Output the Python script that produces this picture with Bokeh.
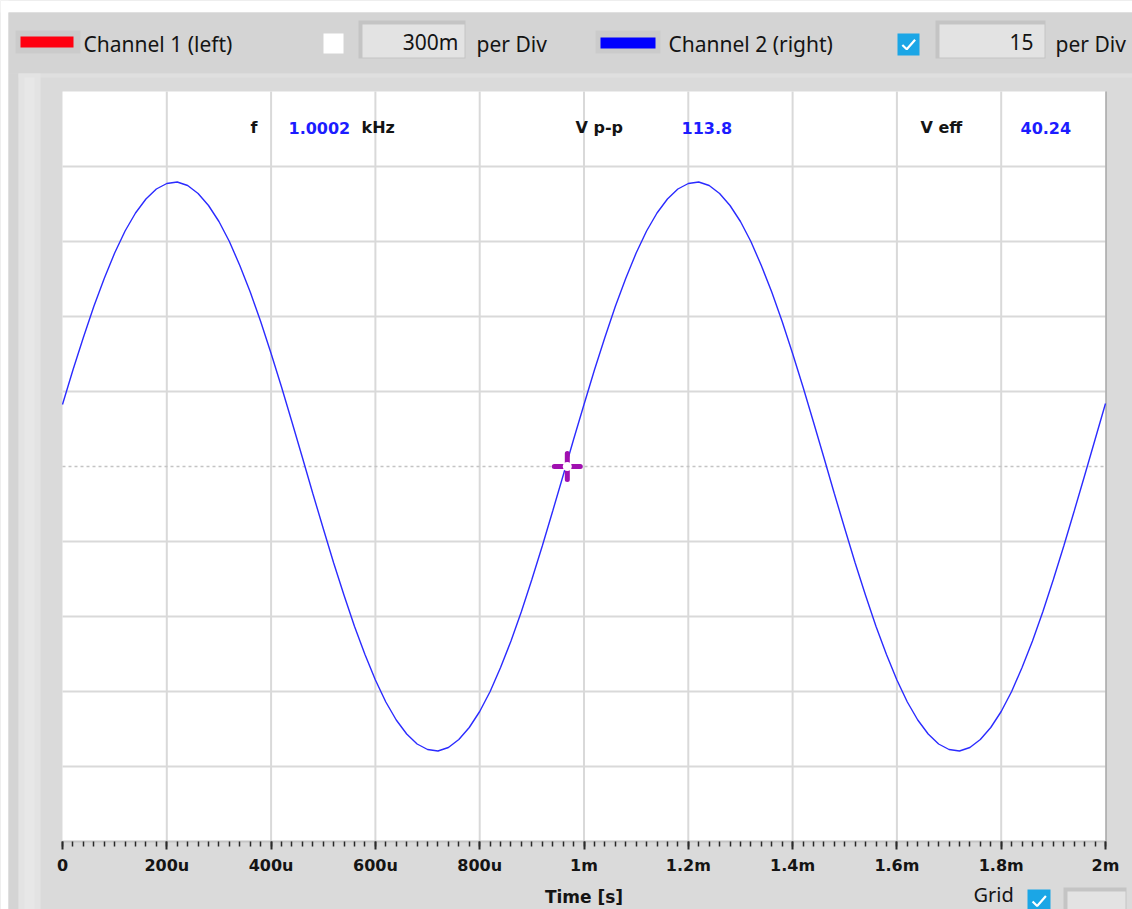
from bokeh.plotting import figure
from bokeh.models import LinearAxis, FixedTicker, CustomJSTickFormatter, Range1d
from bokeh.core.properties import value
from bokeh.embed import file_html
from bokeh.resources import INLINE

# ---- captured data: channel 2, one sample every 20 us over 2 ms ----
sample_step_s = 20e-6
ch2_volts = [
    12.4, 19.3, 25.8, 32.0, 37.6, 42.7, 47.1, 50.7, 53.5, 55.5,
    56.6, 56.9, 56.2, 54.6, 52.2, 49.0, 45.0, 40.2, 34.9, 29.0,
    22.6, 15.9, 8.9, 1.8, -5.4, -12.4, -19.3, -25.8, -32.0, -37.6,
    -42.7, -47.1, -50.7, -53.5, -55.5, -56.6, -56.9, -56.2, -54.6, -52.2,
    -49.0, -45.0, -40.2, -34.9, -29.0, -22.6, -15.9, -8.9, -1.8, 5.4,
    12.4, 19.3, 25.8, 32.0, 37.6, 42.7, 47.1, 50.7, 53.5, 55.5,
    56.6, 56.9, 56.2, 54.6, 52.2, 49.0, 45.0, 40.2, 34.9, 29.0,
    22.6, 15.9, 8.9, 1.8, -5.4, -12.4, -19.3, -25.8, -32.0, -37.6,
    -42.7, -47.1, -50.7, -53.5, -55.5, -56.6, -56.9, -56.2, -54.6, -52.2,
    -49.0, -45.0, -40.2, -34.9, -29.0, -22.6, -15.9, -8.9, -1.8, 5.4,
    12.6,
]
ch2_time_s = [i * sample_step_s for i in range(len(ch2_volts))]

# ---- scope settings ----
time_window_s = 0.002
time_ticks_s = [0, 0.0002, 0.0004, 0.0006, 0.0008, 0.001,
                0.0012, 0.0014, 0.0016, 0.0018, 0.002]
time_minor_ticks_s = [i * 20e-6 for i in range(101)]
ch2_per_div = 15
ch2_half_span = 5 * ch2_per_div
ch2_grid_levels = [-60, -45, -30, -15, 15, 30, 45, 60]

# ---- readouts and control values ----
freq_text = "1.0002"
vpp_text = "113.8"
veff_text = "40.24"
ch1_scale_text = "300m"
ch2_scale_text = "15"

# trigger cursor
cursor_time_s = 0.000968
cursor_volts = 0.0

# ---- window geometry (pixels) ----
W, H = 1132, 909
SCREEN_L, SCREEN_R, SCREEN_T, SCREEN_B = 62, 1105, 91, 841

UI_FONT = "Noto Sans"
SCOPE_FONT = "DejaVu Sans"
TEXT_DARK = "#141414"
READOUT_BLUE = "#1c1cff"
CHECK_BLUE = "#1ba6e6"
PANEL = "#dadada"
GRID = "#d9d9d9"

# data ranges stretched so the scope screen lands on its window rectangle
s_per_px = time_window_s / (SCREEN_R - SCREEN_L)
v_per_px = 2 * ch2_half_span / (SCREEN_B - SCREEN_T)
x_range = Range1d(-SCREEN_L * s_per_px, time_window_s + (W - SCREEN_R) * s_per_px)
y_range = Range1d(-ch2_half_span - (H - SCREEN_B) * v_per_px,
                  ch2_half_span + SCREEN_T * v_per_px)

p = figure(width=W, height=H, output_backend="svg", toolbar_location=None,
           x_range=x_range, y_range=y_range,
           x_axis_location=None, y_axis_location=None,
           min_border=0, background_fill_color=PANEL,
           border_fill_color=PANEL, outline_line_color=None)
# the scope grid is drawn explicitly on the screen area only
p.center = []
p.extra_x_ranges = {"px": Range1d(0, W)}
p.extra_y_ranges = {"px": Range1d(H, 0)}

PX = dict(x_range_name="px", y_range_name="px")


def box(l, t, r, b, color):
    p.quad(left=[l], right=[r], top=[t], bottom=[b], fill_color=color,
           line_color=None, **PX)


def label(x, y, s, color=TEXT_DARK, bold=False, align="left", size="21px",
          font=UI_FONT):
    p.text(x=[x], y=[y], text=[s], text_align=align, text_baseline="middle",
           text_font=value(font), text_font_size=size,
           text_font_style="bold" if bold else "normal",
           text_color=color, **PX)


def checkmark(l, t, r, b):
    w, h = r - l, b - t
    p.line([l + 0.22 * w, l + 0.42 * w, l + 0.80 * w],
           [t + 0.52 * h, t + 0.72 * h, t + 0.28 * h],
           line_color="white", line_width=2.2, **PX)


# ---- window chrome ----
box(0, 0, W, H, PANEL)
box(0, 0, W, 12, "white")
box(0, 0, 8, H, "white")
box(8, 12, W, 73, "#d4d4d4")
box(8, 73, 18, H, "#d4d4d4")
box(18, 73, W, 77, "#dfdfdf")
box(18, 73, 40, H, "#e3e3e3")
box(24, 77, 34, H, "#e7e7e7")

# channel 1 controls
box(15, 30, 80, 53, "#cbcbcb")
box(20, 36, 73, 47, "#ff0010")
label(83, 43, "Channel 1 (left)")
box(323, 33, 343, 53, "white")
box(358, 20, 465, 58, "#c4c4c4")
box(362, 24, 464, 57, "#e3e3e3")
label(458, 41, ch1_scale_text, align="right")
label(476, 43, "per Div")

# channel 2 controls
box(595, 30, 660, 53, "#cbcbcb")
box(600, 37, 655, 48, "#0000ff")
label(668, 43, "Channel 2 (right)")
box(897, 33, 919, 55, CHECK_BLUE)
checkmark(897, 33, 919, 55)
box(935, 20, 1045, 58, "#c4c4c4")
box(939, 24, 1044, 57, "#e3e3e3")
label(1033, 41, ch2_scale_text, align="right")
label(1055, 43, "per Div")

# grid toggle
label(973, 894, "Grid", size="20px")
box(1027, 889, 1050, 912, CHECK_BLUE)
checkmark(1027, 889, 1050, 912)
box(1063, 887, 1126, H, "#c4c4c4")
box(1067, 891, 1125, H, "#e3e3e3")

# ---- scope screen ----
p.quad(left=[0], right=[time_window_s], bottom=[-ch2_half_span],
       top=[ch2_half_span], fill_color="white", line_color=None)
# grid lines as thin bands, 2 px wide
grid_t = time_ticks_s[1:-1]
half_w_s = s_per_px
half_w_v = v_per_px
p.quad(left=[t - half_w_s for t in grid_t], right=[t + half_w_s for t in grid_t],
       bottom=[-ch2_half_span] * len(grid_t), top=[ch2_half_span] * len(grid_t),
       fill_color=GRID, line_color=None)
p.quad(left=[0] * len(ch2_grid_levels),
       right=[time_window_s] * len(ch2_grid_levels),
       bottom=[v - half_w_v for v in ch2_grid_levels],
       top=[v + half_w_v for v in ch2_grid_levels],
       fill_color=GRID, line_color=None)
p.segment(x0=[0], x1=[time_window_s], y0=[0], y1=[0],
          line_color="#c4c4c4", line_width=1.5, line_dash="3 3")
p.quad(left=[time_window_s], right=[time_window_s + s_per_px],
       bottom=[-ch2_half_span], top=[ch2_half_span],
       fill_color="#8c8c8c", line_color=None)

# readouts
label(250, 127, "f", bold=True, size="16px", font=SCOPE_FONT)
label(288, 127, freq_text, color=READOUT_BLUE, bold=True, size="16px",
      font=SCOPE_FONT)
label(361, 127, "kHz", bold=True, size="16px", font=SCOPE_FONT)
label(575, 127, "V p-p", bold=True, size="16px", font=SCOPE_FONT)
label(681, 127, vpp_text, color=READOUT_BLUE, bold=True, size="16px",
      font=SCOPE_FONT)
label(920, 127, "V eff", bold=True, size="16px", font=SCOPE_FONT)
label(1020, 127, veff_text, color=READOUT_BLUE, bold=True, size="16px",
      font=SCOPE_FONT)

# ---- trace ----
p.line(ch2_time_s, ch2_volts, line_color="#2b2bff", line_width=1.4)

# ---- cursor ----
p.scatter([cursor_time_s], [cursor_volts], marker="cross", size=26,
          line_width=5, line_color="#a010b0", line_cap="round")
p.scatter([cursor_time_s], [cursor_volts], marker="circle", size=9,
          fill_color="white", line_color=None)

# ---- time axis along the bottom edge of the screen ----
xa = LinearAxis(fixed_location=-ch2_half_span, bounds=(0, time_window_s),
                ticker=FixedTicker(ticks=time_ticks_s,
                                   minor_ticks=time_minor_ticks_s))
xa.formatter = CustomJSTickFormatter(code="""
    const us = Math.round(tick * 1e6);
    if (us === 0) return "0";
    if (us < 1000) return us + "u";
    return (us / 1000).toString() + "m";
""")
xa.axis_line_color = "#c4c4c4"
xa.axis_line_width = 2
xa.major_tick_in = 0
xa.major_tick_out = 8
xa.minor_tick_in = 0
xa.minor_tick_out = 5
xa.major_tick_line_color = "#2a2a2a"
xa.major_tick_line_width = 2
xa.minor_tick_line_color = "#2a2a2a"
xa.minor_tick_line_width = 1.5
xa.major_label_text_font = SCOPE_FONT
xa.major_label_text_font_style = "bold"
xa.major_label_text_font_size = "16px"
xa.major_label_text_color = TEXT_DARK
xa.major_label_standoff = 6
xa.axis_label = "Time [s]"
xa.axis_label_text_font = SCOPE_FONT
xa.axis_label_text_font_style = "bold"
xa.axis_label_text_font_size = "17px"
xa.axis_label_text_color = TEXT_DARK
xa.axis_label_standoff = 9
p.add_layout(xa, "below")

open("out.html", "w").write(file_html(p, INLINE))
